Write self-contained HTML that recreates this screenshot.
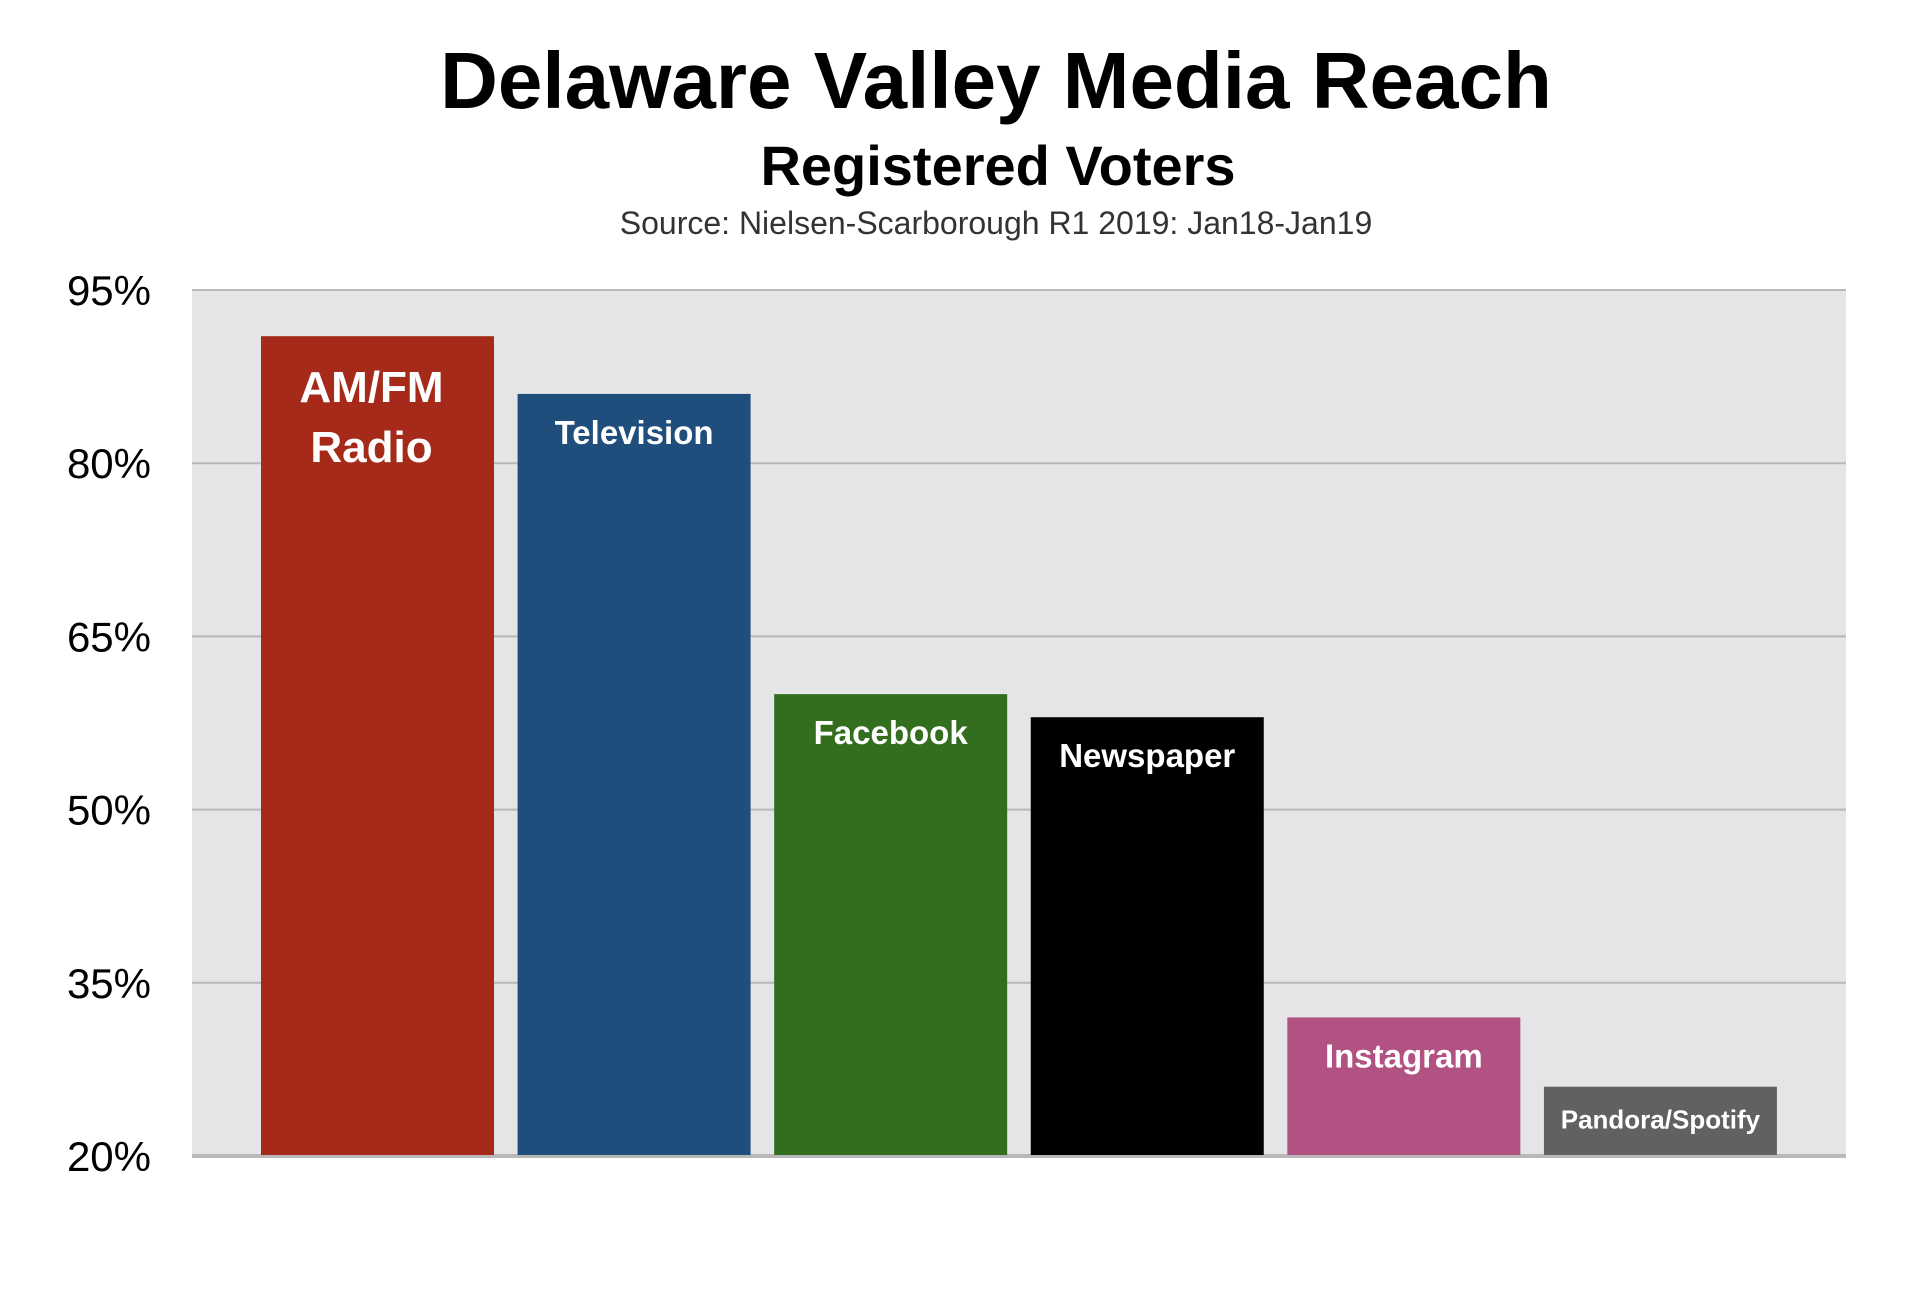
<!DOCTYPE html>
<html><head><meta charset="utf-8"><style>
html,body{margin:0;padding:0;background:#fff;width:1916px;height:1290px;overflow:hidden}
svg{display:block;font-family:"Liberation Sans",Arial,sans-serif}
</style></head><body>
<svg id="chart" width="1916" height="1290" viewBox="0 0 1916 1290">
<text x="996" y="108" text-anchor="middle" font-size="80" font-weight="bold" fill="#000">Delaware Valley Media Reach</text>
<text x="998" y="185" text-anchor="middle" font-size="56" font-weight="bold" fill="#000">Registered Voters</text>
<text x="996" y="234" text-anchor="middle" font-size="32" fill="#333">Source: Nielsen-Scarborough R1 2019: Jan18-Jan19</text>
<rect x="192" y="290" width="1654" height="866" fill="#e5e5e8"/>
<g id="grid"></g><g id="bars"></g><g id="labels"></g>
</svg>
<script>
const categories=["AM/FM Radio","Television","Facebook","Newspaper","Instagram","Pandora/Spotify"];
const values=[91,86,60,58,32,26];
const tickValues=[20,35,50,65,80,95];
const tickLabels=["20%","35%","50%","65%","80%","95%"];
const colors=["#a52a1a","#1f4e7d","#336e1f","#000000","#b25282","#616161"];
const NS="http://www.w3.org/2000/svg";
const plotL=192,plotR=1846,yTop=290,yBot=1156,vMin=20,vMax=95;
const y=v=>yBot-(v-vMin)/(vMax-vMin)*(yBot-yTop);
const pitch=(plotR-plotL-138+23.5)/categories.length, barW=233;
const x=i=>plotL+69+i*pitch;
function mk(t,a){const e=document.createElementNS(NS,t);for(const k in a)e.setAttribute(k,a[k]);return e;}
const grid=document.getElementById('grid'),bars=document.getElementById('bars'),labels=document.getElementById('labels');
tickValues.forEach((v,i)=>{
  const l=mk('line',{x1:plotL,x2:plotR,y1:y(v),y2:y(v),stroke:'#b8b8b8','stroke-width':i===0?4:2});
  
  
  grid.appendChild(l);
  const t=mk('text',{x:151,y:y(v)+15,'text-anchor':'end','font-size':42,fill:'#000'});
  t.textContent=tickLabels[i];
  
  
  grid.appendChild(t);
});
values.forEach((v,i)=>{
  const r=mk('rect',{x:x(i),y:y(v),width:barW,height:yBot-y(v)-1,fill:colors[i]});
  
  
  bars.appendChild(r);
  const cx=x(i)+barW/2;
  if(i===0){
    ['AM/FM','Radio'].forEach((s,j)=>{
      const t=mk('text',{x:cx-6,y:y(v)+66+j*60,'text-anchor':'middle','font-size':44,'font-weight':'bold',fill:'#fff'});
      t.textContent=s;
      
      
      labels.appendChild(t);
    });
  } else {
    const small=categories[i].length>12;
    const t=mk('text',{x:cx,y:y(v)+(small?42:50),'text-anchor':'middle','font-size':small?26:33,'font-weight':'bold',fill:'#fff'});
    t.textContent=categories[i];
    
    
    labels.appendChild(t);
  }
});
</script>
</body></html>
